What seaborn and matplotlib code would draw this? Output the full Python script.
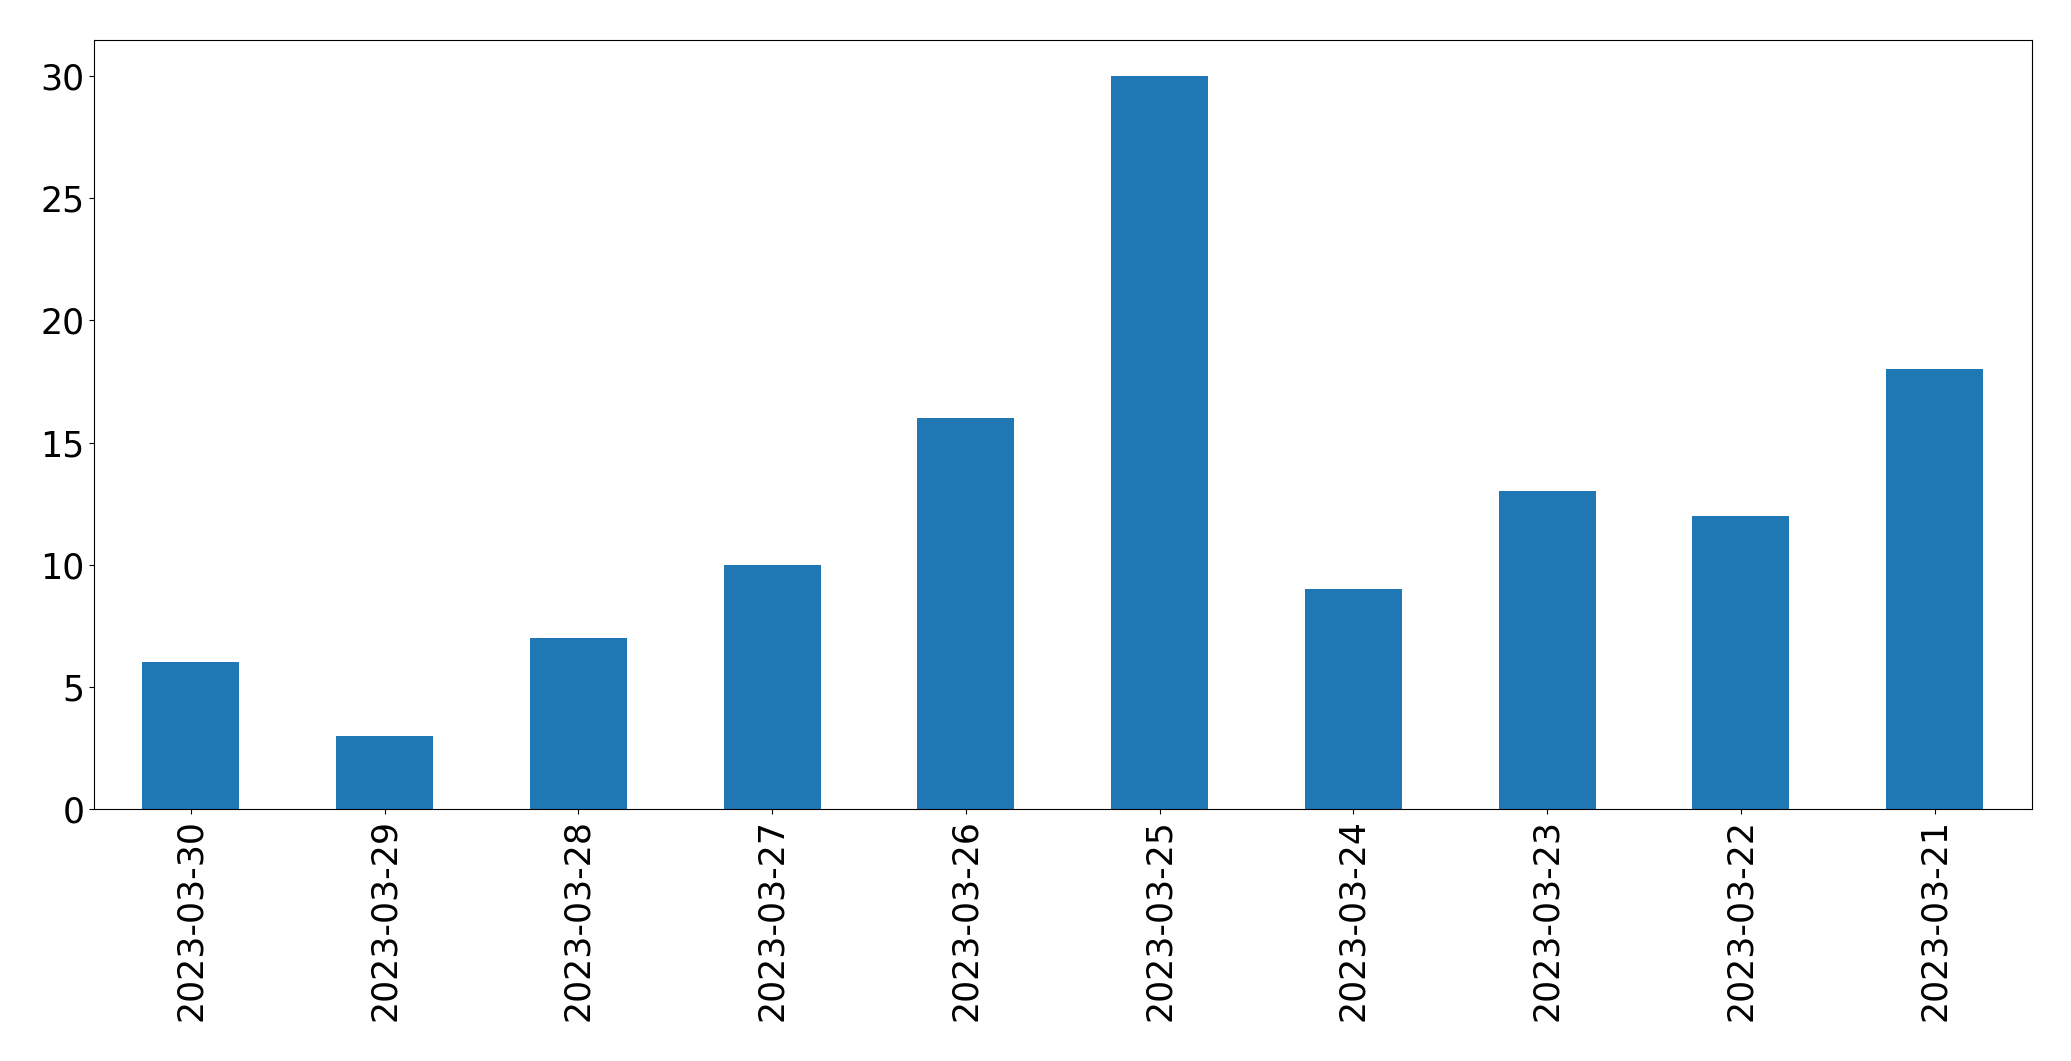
import matplotlib
matplotlib.use("Agg")
import matplotlib.pyplot as plt
import seaborn as sns
import pandas as pd

# Daily counts, newest first (as in the original chart)
dates = ["2023-03-30", "2023-03-29", "2023-03-28", "2023-03-27", "2023-03-26",
         "2023-03-25", "2023-03-24", "2023-03-23", "2023-03-22", "2023-03-21"]
counts = [6, 3, 7, 10, 16, 30, 9, 13, 12, 18]

df = pd.DataFrame({"date": dates, "count": counts})

fig = plt.figure(figsize=(20.71, 10.61), dpi=100)
ax = fig.add_axes([94 / 2071, 1 - 809 / 1061, (2031.5 - 94) / 2071, (809 - 39.5) / 1061])

sns.barplot(data=df, x="date", y="count", color="#1f77b4", saturation=1,
            width=0.5, ax=ax, order=dates)

ax.set_xlim(-0.5, len(dates) - 0.5)
ax.set_ylim(0, max(counts) * 1.05)
ax.set_xlabel("")
ax.set_ylabel("")
ax.tick_params(axis="both", labelsize=25)
plt.setp(ax.get_xticklabels(), rotation=90)

fig.savefig("out.png", dpi=100)
